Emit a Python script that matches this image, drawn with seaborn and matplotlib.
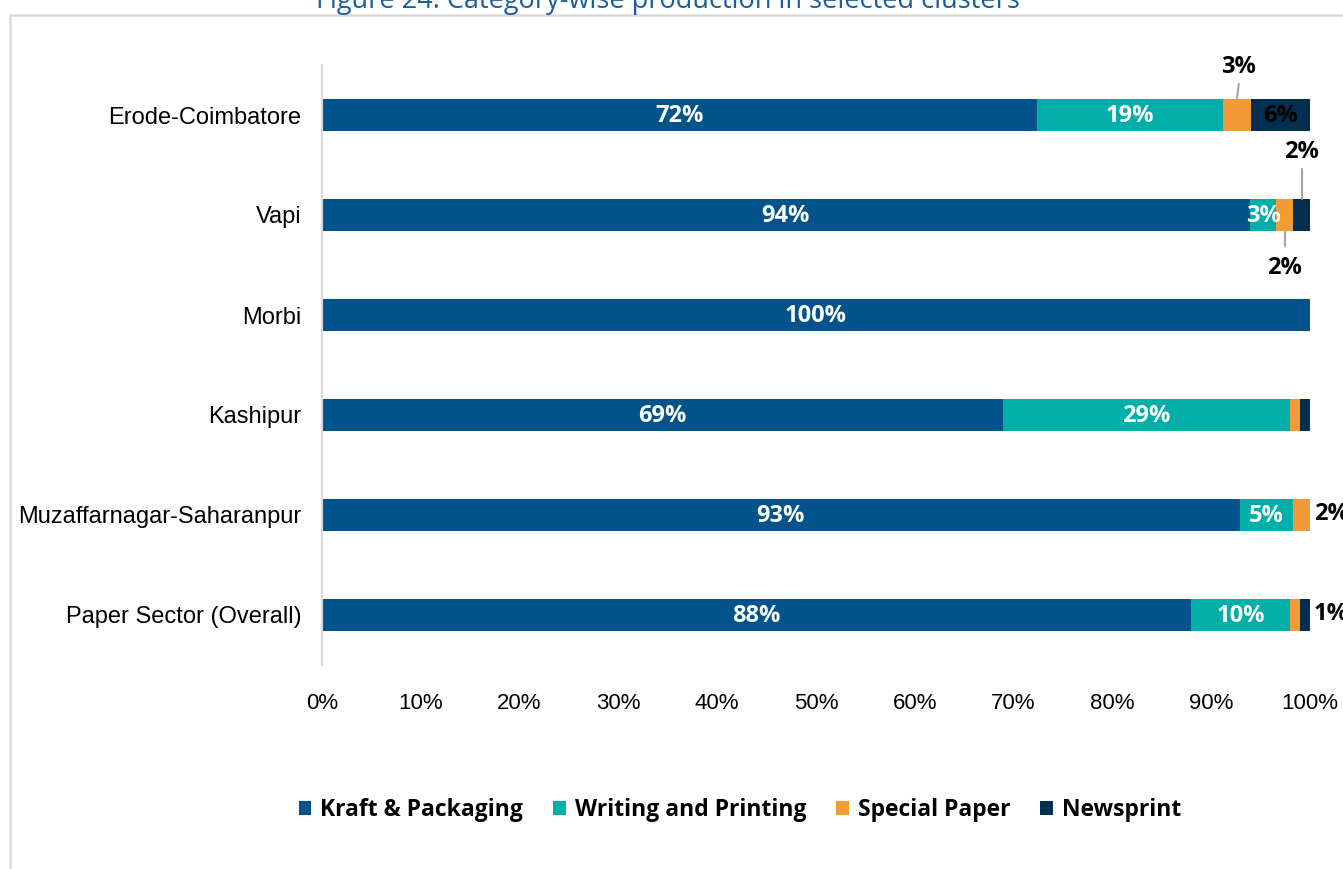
import matplotlib
matplotlib.use("Agg")
import matplotlib.pyplot as plt
import seaborn as sns
import pandas as pd
from matplotlib.patches import Patch, Rectangle
from matplotlib.font_manager import FontProperties

# ---- data -------------------------------------------------------------
clusters = ["Erode-Coimbatore", "Vapi", "Morbi", "Kashipur",
            "Muzaffarnagar-Saharanpur", "Paper Sector (Overall)"]
categories = ["Kraft & Packaging", "Writing and Printing", "Special Paper", "Newsprint"]
kraft = [72.4, 93.9, 100.0, 68.9, 92.9, 88.0]
writing = [18.8, 2.7, 0.0, 29.1, 5.4, 10.0]
special = [2.8, 1.7, 0.0, 1.0, 1.7, 1.0]
newsprint = [6.0, 1.7, 0.0, 1.0, 0.0, 1.0]
x_ticks = [0, 10, 20, 30, 40, 50, 60, 70, 80, 90, 100]
x_tick_labels = [f"{t}%" for t in x_ticks]
title = "Figure 24: Category-wise production in selected clusters"

# ---- styling ----------------------------------------------------------
colors = ["#00548B", "#00AFA8", "#F29A36", "#012F50"]
W, H = 1343, 869

sns.set_style("white")
plt.rcParams["font.family"] = ["Liberation Sans", "DejaVu Sans"]
plt.rcParams["text.color"] = "black"

df = pd.DataFrame({"cluster": clusters, categories[0]: kraft,
                   categories[1]: writing, categories[2]: special,
                   categories[3]: newsprint})
long = df.melt(id_vars="cluster", var_name="category", value_name="share")
long["category"] = pd.Categorical(long["category"], categories, ordered=True)
long["cluster"] = pd.Categorical(long["cluster"], clusters, ordered=True)
long = long.sort_values(["cluster", "category"]).reset_index(drop=True)
long["cum"] = long.groupby("cluster", observed=True)["share"].cumsum()
long["center"] = long["cum"] - long["share"] / 2

fig = plt.figure(figsize=(W / 100, H / 100), dpi=100)
ax = fig.add_axes([322 / W, 1 - 665 / H, 988 / W, 600 / H])

# stacked bars: cumulative totals drawn from the outermost segment inwards
for cat, col in reversed(list(zip(categories, colors))):
    sub = long[long["category"] == cat]
    sns.barplot(data=sub, x="cum", y="cluster", order=clusters, orient="h",
                color=col, saturation=1, width=0.32, linewidth=0, ax=ax)

ax.set_xlim(0, 100)
ax.set_ylim(5.5, -0.5)
ax.set_xticks(x_ticks)
ax.set_xticklabels(x_tick_labels)
ax.set_xlabel("")
ax.set_ylabel("")
ax.tick_params(axis="both", length=0, colors="#000000")
ax.tick_params(axis="x", pad=20, labelsize=16)
ax.tick_params(axis="y", pad=15, labelsize=17)
for s in ["top", "right", "bottom"]:
    ax.spines[s].set_visible(False)
ax.spines["left"].set_color("#D9D9D9")
ax.spines["left"].set_linewidth(1.5)

# ---- value labels -----------------------------------------------------
lab_font = dict(family="Open Sans", weight="bold", fontsize=17)
lead = dict(color="#A6A6A6", lw=1.5, clip_on=False)


def seg(cluster, cat):
    return long[(long["cluster"] == cluster) & (long["category"] == cat)].iloc[0]


def pct(v):
    return f"{v:.0f}%"


inside_white = [(c, k) for c in clusters for k in categories[:2]
                if seg(c, k)["share"] >= 2.5]
for c, k in inside_white:
    r = seg(c, k)
    ax.text(r["center"], clusters.index(c) + 0.01, pct(r["share"]),
            ha="center", va="center", color="white", **lab_font)

# dark text on the newsprint segment
r = seg(clusters[0], categories[3])
ax.text(r["center"], 0.01, pct(r["share"]), ha="center", va="center",
        color="black", **lab_font)

# callouts with leader lines
r = seg(clusters[0], categories[2])
ax.text(r["center"] + 0.2, -0.48, pct(r["share"]), ha="center", va="center",
        color="black", **lab_font)
ax.plot([r["center"] + 0.2, r["center"]], [-0.31, -0.16], **lead)

r = seg(clusters[1], categories[3])
ax.text(r["center"], 1 - 0.63, pct(r["share"]), ha="center", va="center",
        color="black", **lab_font)
ax.plot([r["center"], r["center"]], [1 - 0.46, 1 - 0.16], **lead)

r = seg(clusters[1], categories[2])
ax.text(r["center"], 1.53, pct(r["share"]), ha="center", va="center",
        color="black", **lab_font)
ax.plot([r["center"], r["center"]], [1.16, 1.31], **lead)

# labels just beyond the bar end
for c, k in [(clusters[4], categories[2]), (clusters[5], categories[3])]:
    r = seg(c, k)
    ax.text(100.4, clusters.index(c) - 0.01, pct(r["share"]), ha="left",
            va="center", color="black", clip_on=False, **lab_font)

# ---- legend -----------------------------------------------------------
handles = [Patch(facecolor=col, edgecolor="none") for col in colors]
leg = fig.legend(handles, categories, loc="center", ncol=4, frameon=False,
                 bbox_to_anchor=(740 / W, 1 - 810 / H),
                 handlelength=0.55, handleheight=0.55, handletextpad=0.4,
                 columnspacing=1.3,
                 prop=FontProperties(family="Open Sans", weight="bold", size=16.5))
for t in leg.get_texts():
    t.set_color("black")

# ---- frame and title --------------------------------------------------
fig.patches.append(Rectangle((10 / W, -0.1), 1.2, 1.1 - 15 / H,
                             transform=fig.transFigure, fill=False,
                             edgecolor="#D9D9D9", lw=1.8, zorder=0))
fig.text(668 / W, 1 - 8 / H, title, ha="center", va="baseline",
         color="#1B5E9C", fontsize=19.5, family="Open Sans")

fig.savefig("out.png", dpi=100)
